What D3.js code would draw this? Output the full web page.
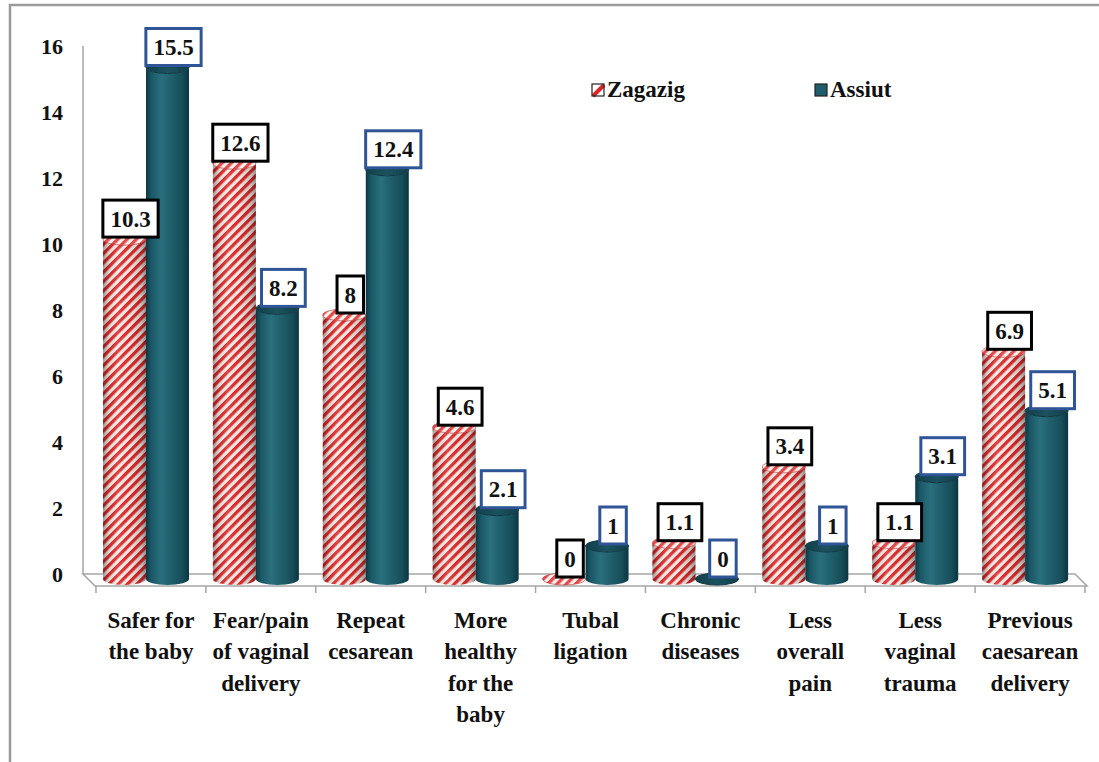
<!DOCTYPE html>
<html><head><meta charset="utf-8">
<script src="https://cdn.jsdelivr.net/npm/d3@7"></script>
<style>
html,body{margin:0;padding:0;background:#fff;}
svg{display:block;}
svg text{font-family:"Liberation Serif","DejaVu Serif",serif;font-weight:700;fill:#111;}
</style></head>
<body>
<svg id="chart" width="1099" height="762"></svg>
<script>
const categoryLabels = [
  ["Safer for","the baby"],
  ["Fear/pain","of vaginal","delivery"],
  ["Repeat","cesarean"],
  ["More","healthy","for the","baby"],
  ["Tubal","ligation"],
  ["Chronic","diseases"],
  ["Less","overall","pain"],
  ["Less","vaginal","trauma"],
  ["Previous","caesarean","delivery"]
];
const categories = categoryLabels.map(l => l.join(" "));
const seriesNames = ["Zagazig","Assiut"];
const zagazig = [10.3,12.6,8,4.6,0,1.1,3.4,1.1,6.9];
const assiut  = [15.5,8.2,12.4,2.1,1,0,1,3.1,5.1];
const yTicks = [0,2,4,6,8,10,12,14,16];

const FONT = '"Liberation Serif","DejaVu Serif",serif';
const svg = d3.select("#chart");
const defs = svg.append("defs");

// stripes pattern
const pat = defs.append("pattern").attr("id","stripes").attr("patternUnits","userSpaceOnUse")
  .attr("width",6.6).attr("height",6.6).attr("patternTransform","rotate(45)");
pat.append("rect").attr("width",6.6).attr("height",6.6).attr("fill","#f7efe9");
pat.append("rect").attr("width",3.3).attr("height",6.6).attr("fill","#df2a2c");

function grad(id, stops){
  const g = defs.append("linearGradient").attr("id",id).attr("x1","0").attr("x2","1").attr("y1","0").attr("y2","0");
  stops.forEach(s => g.append("stop").attr("offset",s[0]).attr("stop-color",s[1]).attr("stop-opacity",s[2]===undefined?1:s[2]));
}
grad("teal",[[0,"#0c3742"],[0.12,"#1a5866"],[0.35,"#2a6f7d"],[0.6,"#1f5e6b"],[0.85,"#164d59"],[1,"#0c3540"]]);
grad("shade",[[0,"#000",0.35],[0.15,"#000",0.08],[0.35,"#fff",0.12],[0.6,"#000",0.02],[0.88,"#000",0.18],[1,"#000",0.4]]);
grad("tealTop",[[0,"#113f4a"],[0.5,"#1b525e"],[1,"#113f4a"]]);

// scales
const y = d3.scaleLinear().domain([0,16]).range([574,46]);
const x = d3.scaleBand().domain(categories).range([96,1085]).paddingInner(0).paddingOuter(0);
const xs = d3.scaleBand().domain(seriesNames).range([7,93]).paddingInner(0);
const depth = 12, ry = 6, dOff = 5;

// outer frame
svg.append("path").attr("d","M10,762 L10,5 L1099,5").attr("fill","none").attr("stroke","#9a9a9a").attr("stroke-width",2.5);

// floor
const x0 = 83, x1 = 1075;
svg.append("path")
  .attr("d",`M${x0},${y(0)} L${x1},${y(0)} L${x1+depth},${y(0)+depth} L${x0+depth},${y(0)+depth} Z`)
  .attr("fill","#fff").attr("stroke","#a6a6a6").attr("stroke-width",1.5);
svg.append("line").attr("x1",x0).attr("x2",x0).attr("y1",y(16)).attr("y2",y(0)).attr("stroke","#a6a6a6").attr("stroke-width",1.5);

// x ticks
const tickXs = categories.map(c => x(c)).concat([x.range()[1]]);
svg.selectAll(".xt").data(tickXs).enter().append("line")
  .attr("x1",d=>d).attr("x2",d=>d).attr("y1",y(0)+depth).attr("y2",y(0)+depth+7)
  .attr("stroke","#a6a6a6").attr("stroke-width",1.5);

// y tick labels
svg.selectAll(".yl").data(yTicks).enter().append("text")
  .attr("x",63).attr("y",d=>y(d)).attr("dy","0.35em").attr("text-anchor","end")
  .attr("font-family",FONT).attr("font-weight","bold")
  .style("font-size","22px").text(d=>d);

// bars
function cyl(g, cx0, w, v, series){
  const L = cx0, R = cx0 + w, rx = w/2, cx = (L+R)/2;
  const yb = y(0) + dOff, yt = y(v) + dOff;
  const body = `M${L},${yt} L${L},${yb} A${rx},${ry} 0 0 0 ${R},${yb} L${R},${yt} A${rx},${ry} 0 0 1 ${L},${yt} Z`;
  if (series === "Zagazig"){
    g.append("path").attr("d",body).attr("fill","url(#stripes)");
    g.append("path").attr("d",body).attr("fill","url(#shade)");
    g.append("ellipse").attr("cx",cx).attr("cy",yt).attr("rx",rx).attr("ry",ry).attr("fill","url(#stripes)");
    g.append("ellipse").attr("cx",cx).attr("cy",yt).attr("rx",rx).attr("ry",ry).attr("fill","#fff").attr("fill-opacity",0.15)
      .attr("stroke","#b8302f").attr("stroke-opacity",0.6).attr("stroke-width",1);
  } else {
    g.append("path").attr("d",body).attr("fill","url(#teal)");
    g.append("ellipse").attr("cx",cx).attr("cy",yt).attr("rx",rx).attr("ry",ry).attr("fill","url(#tealTop)")
      .attr("stroke","#0e3843").attr("stroke-width",1);
  }
}
const barsG = svg.append("g");
categories.forEach((c,i) => {
  cyl(barsG, x(c)+xs("Zagazig"), xs.bandwidth(), zagazig[i], "Zagazig");
  cyl(barsG, x(c)+xs("Assiut"), xs.bandwidth(), assiut[i], "Assiut");
});

// value labels
const labG = svg.append("g");
function valLabel(c, series, v){
  const cx = x(c) + xs(series) + xs.bandwidth()/2 + 6;
  const yt = y(v) + dOff;
  const g = labG.append("g");
  const rect = g.append("rect");
  const bh = 37;
  const t = g.append("text").attr("x",cx).attr("y",yt-2-bh/2).attr("dy","0.35em").attr("text-anchor","middle")
    .attr("font-family",FONT).attr("font-weight","bold")
    .style("font-size","23px").text(v);
  const tw = t.node().getComputedTextLength();
  const bw = tw + 15;
  rect.attr("x",cx-bw/2).attr("y",yt-2-bh).attr("width",bw).attr("height",bh)
    .attr("fill","#fff").attr("stroke",series==="Zagazig"?"#000":"#2f5597").attr("stroke-width",3);
}
categories.forEach((c,i) => {
  valLabel(c,"Zagazig",zagazig[i]);
  valLabel(c,"Assiut",assiut[i]);
});

// category labels
categoryLabels.forEach((lines,i) => {
  const cx = x(categories[i]) + x.bandwidth()/2;
  const t = svg.append("text").attr("text-anchor","middle")
    .attr("font-family",FONT).attr("font-weight","bold").style("font-size","23px");
  lines.forEach((ln,j) => t.append("tspan").attr("x",cx).attr("y",628 + j*31.3).text(ln));
});

// legend
const legend = [
  {name:"Zagazig", x:592},
  {name:"Assiut", x:815}
];
legend.forEach(l => {
  if (l.name === "Zagazig"){
    svg.append("rect").attr("x",l.x).attr("y",84).attr("width",12).attr("height",12).attr("fill","#fff");
    svg.append("path").attr("d",`M${l.x+1},${96} L${l.x+12},${85}`).attr("stroke","#d8262a").attr("stroke-width",4);
    svg.append("rect").attr("x",l.x).attr("y",84).attr("width",12).attr("height",12).attr("fill","none").attr("stroke","#222").attr("stroke-width",1.2);
  } else {
    svg.append("rect").attr("x",l.x).attr("y",84).attr("width",12).attr("height",12).attr("fill","#1f5d6a").attr("stroke","#222").attr("stroke-width",1.2);
  }
  svg.append("text").attr("x",l.x+15).attr("y",97)
    .attr("font-family",FONT).attr("font-weight","bold").style("font-size","23px").text(l.name);
});
</script>
</body></html>
